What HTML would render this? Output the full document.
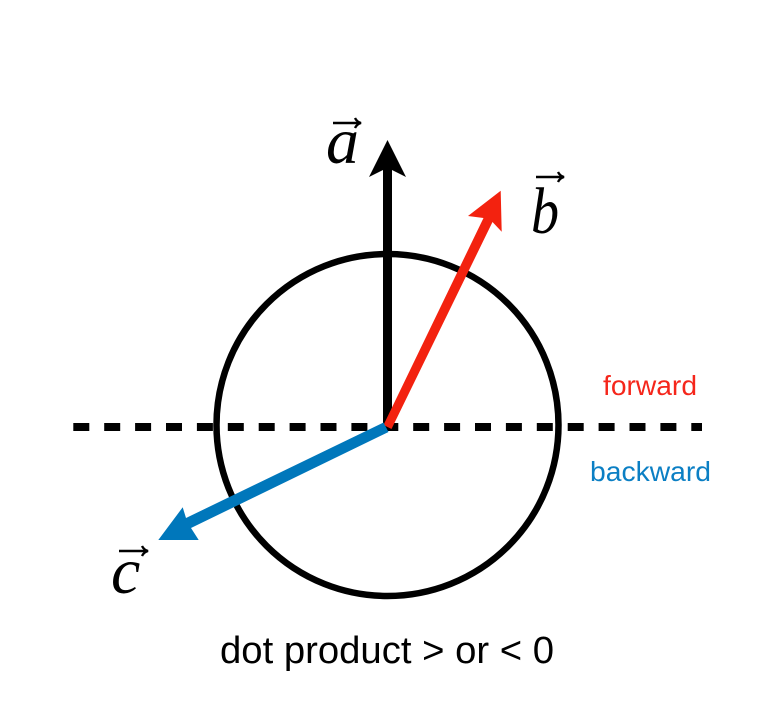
<!DOCTYPE html>
<html>
<head>
<meta charset="utf-8">
<style>
html,body{margin:0;padding:0;background:#fff}
svg{display:block}
.h{font-family:"Liberation Sans",sans-serif}
.m{font-family:"Liberation Serif",serif;font-style:italic;font-size:66px;fill:#000}
</style>
</head>
<body>
<svg width="759" height="728" viewBox="0 0 759 728" xmlns="http://www.w3.org/2000/svg">
<rect width="759" height="728" fill="#fff"/>
<circle cx="387.5" cy="425" r="171" fill="none" stroke="#000" stroke-width="6.5"/>
<line x1="73.3" y1="427" x2="702" y2="427" stroke="#000" stroke-width="8" stroke-dasharray="16 14.9"/>
<!-- a -->
<polygon points="383,427 383,170 369,177 387.5,140 406,177 392,170 392,427" fill="#000"/>
<!-- b -->
<polygon points="383.5,425 483.5,218 468,216 500.7,190.7 501.7,231.7 492.5,222 391.5,429" fill="#F3220F"/>
<!-- c -->
<polygon points="383.5,422.5 186,518 182.7,507.3 158.3,540 198.7,540 191,528 388.5,432" fill="#0077BB"/>
<!-- letters -->
<text class="m" x="326" y="163">a</text>
<text class="m" transform="translate(531 233) scale(0.85 1)" x="0" y="0">b</text>
<text class="m" x="111" y="593">c</text>
<!-- vector arrows over letters -->
<g fill="none" stroke="#000" stroke-width="2.4">
<path d="M333 123H360"/><path d="M355 118Q357 122 361 123Q357 124 355 128"/>
<path d="M536 177H563"/><path d="M558 172Q560 176 564 177Q560 178 558 182"/>
<path d="M119 551H147"/><path d="M142 546Q144 550 148 551Q144 552 142 556"/>
</g>
<text class="h" x="603" y="395" font-size="28" textLength="94" lengthAdjust="spacingAndGlyphs" fill="#F5261B">forward</text>
<text class="h" x="590" y="481" font-size="28" textLength="121" lengthAdjust="spacingAndGlyphs" fill="#0B7FC4">backward</text>
<text class="h" x="220" y="663" font-size="38" textLength="334" lengthAdjust="spacingAndGlyphs" fill="#000">dot product &gt; or &lt; 0</text>
</svg>
</body>
</html>
